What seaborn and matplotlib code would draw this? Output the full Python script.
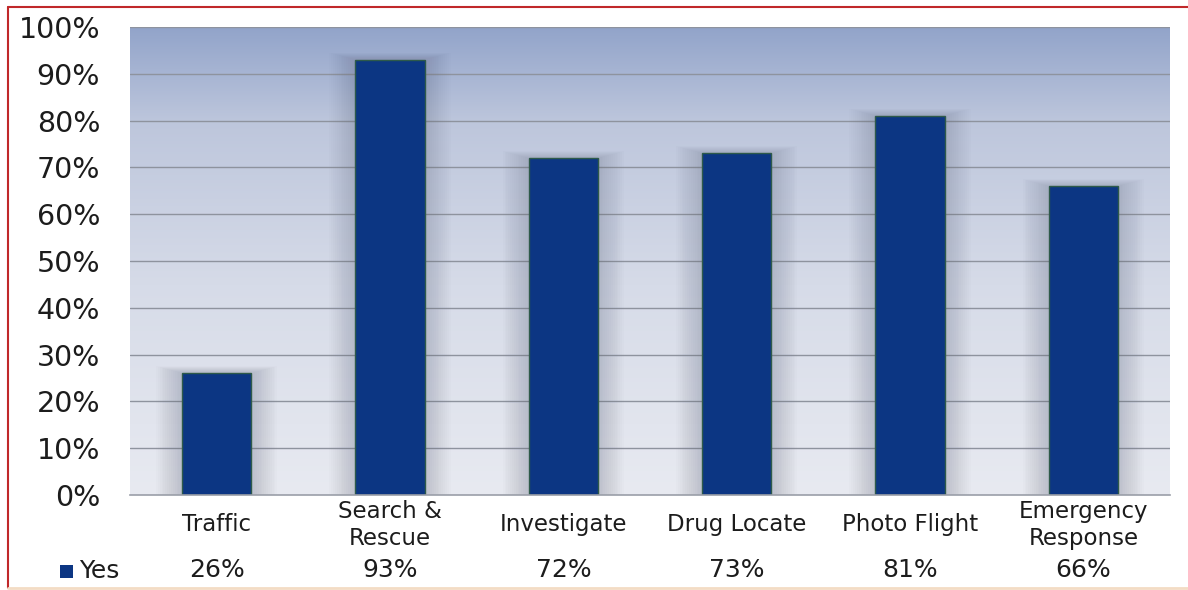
import numpy as np
import pandas as pd
import matplotlib
matplotlib.use("Agg")
import matplotlib.pyplot as plt
from matplotlib.colors import LinearSegmentedColormap
from matplotlib.lines import Line2D
from matplotlib.patches import Rectangle
import seaborn as sns

# Share of agencies answering "Yes" for each mission type
categories = ["Traffic", "Search &\nRescue", "Investigate", "Drug Locate",
              "Photo Flight", "Emergency\nResponse"]
yes_values = [26, 93, 72, 73, 81, 66]
series_name = "Yes"
y_ticks = [0, 10, 20, 30, 40, 50, 60, 70, 80, 90, 100]

df = pd.DataFrame({"category": categories, "value": yes_values})

sns.set_theme(style="white")
plt.rcParams["font.family"] = ["DejaVu Sans"]

bar_color = "#0c3683"
text_color = "#1c1c1c"
fig = plt.figure(figsize=(11.88, 5.90), dpi=100)
ax = fig.add_axes([130 / 1188, 1 - 495 / 590, 1040 / 1188, 468 / 590])

# vertical gradient backdrop of the plot area
grad = np.linspace(0, 1, 256).reshape(-1, 1)
cmap = LinearSegmentedColormap.from_list(
    "bg", [(0.0, "#e8eaf1"), (0.45, "#d6dbe8"), (0.8, "#bdc6dc"), (1.0, "#92a4ca")])
ax.imshow(grad, cmap=cmap, aspect="auto", origin="lower",
          extent=(-0.5, 5.5, 0, 100), zorder=0)

# horizontal grid lines
for t in y_ticks[1:]:
    ax.axhline(t, color="#8e939e", lw=1.0, zorder=1)

# soft shadow around each bar
for i, v in enumerate(yes_values):
    for k in np.linspace(0.01, 0.15, 14):
        ax.add_patch(Rectangle((i - 0.2 - k, 0), 0.4 + 2 * k, v + k * 10,
                               facecolor="#687085", edgecolor="none", alpha=0.022,
                               zorder=1.5))

sns.barplot(data=df, x="category", y="value", color=bar_color, width=0.4,
            saturation=1, edgecolor="#2e5a4a", linewidth=1.0, ax=ax, zorder=2)

ax.set_xlim(-0.5, 5.5)
ax.set_ylim(0, 100)
ax.set_yticks(y_ticks)
ax.set_yticklabels([f"{t}%" for t in y_ticks], fontsize=20.5, color=text_color)
ax.tick_params(axis="y", length=0, pad=21.5)
ax.set_xticks(range(len(categories)))
ax.set_xticklabels(categories, fontsize=16.5, color=text_color, linespacing=1.2)
for lbl in ax.get_xticklabels():
    lbl.set_verticalalignment("center")
ax.tick_params(axis="x", length=0, pad=21.5)
ax.set_xlabel("")
ax.set_ylabel("")
for s in ["top", "right", "left"]:
    ax.spines[s].set_visible(False)
ax.spines["bottom"].set_color("#9a9ea8")
ax.spines["bottom"].set_linewidth(1.2)

# data table row beneath the categories
row_y = -(570 - 495) / 468
tr = ax.get_xaxis_transform()
for i, v in enumerate(yes_values):
    ax.text(i, row_y, f"{v}%", transform=tr, ha="center", va="center",
            fontsize=18, color=text_color)
fig.patches.append(Rectangle((60 / 1188, 1 - 578 / 590), 13 / 1188, 13 / 590,
                             transform=fig.transFigure, facecolor=bar_color,
                             edgecolor="none"))
fig.text(79 / 1188, 1 - 571 / 590, series_name, ha="left", va="center",
         fontsize=18, color=text_color)

# thin outer frame
fig.add_artist(Line2D([8 / 1188, 1], [1 - 7 / 590] * 2, transform=fig.transFigure,
                      color="#c0282a", lw=1.5))
fig.add_artist(Line2D([8 / 1188] * 2, [1 - 7 / 590, 2 / 590], transform=fig.transFigure,
                      color="#c0282a", lw=1.5))
fig.add_artist(Line2D([8 / 1188, 1], [2 / 590] * 2, transform=fig.transFigure,
                      color="#f3dcc4", lw=2))

fig.savefig("out.png", dpi=100, facecolor="white")
